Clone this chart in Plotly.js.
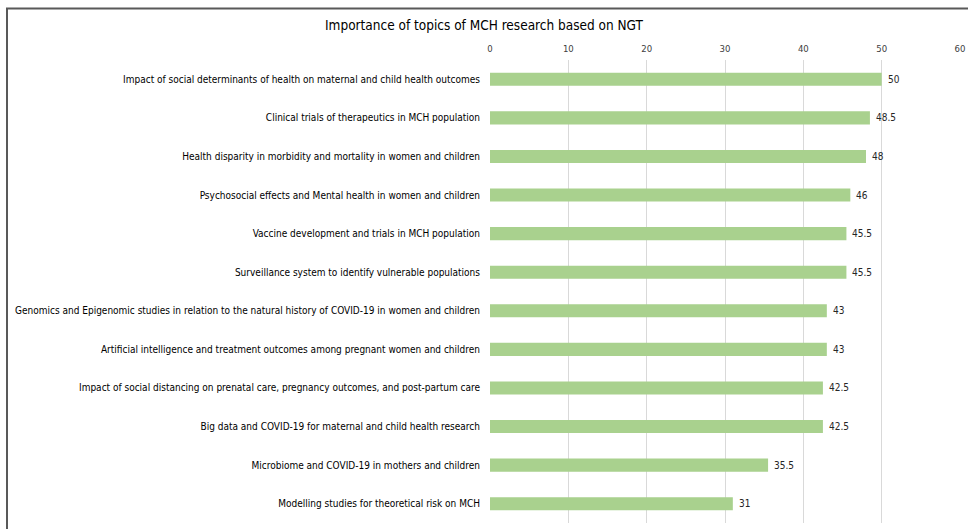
<!DOCTYPE html>
<html>
<head>
<meta charset="utf-8">
<script src="https://cdn.plot.ly/plotly-3.0.1.min.js"></script>
<style>html,body{margin:0;padding:0;background:#fff;}#chart{width:968px;height:529px;}</style>
</head>
<body>
<div id="chart"></div>
<script>
const topics = [
  "Impact of social determinants of health on maternal and child health outcomes",
  "Clinical trials of therapeutics in MCH population",
  "Health disparity in morbidity and mortality in women and children",
  "Psychosocial effects and Mental health in women and children",
  "Vaccine development and trials in MCH population",
  "Surveillance system to identify vulnerable populations",
  "Genomics and Epigenomic studies in relation to the natural history of COVID-19 in women and children",
  "Artificial intelligence and treatment outcomes among pregnant women and children",
  "Impact of social distancing on prenatal care, pregnancy outcomes, and post-partum care",
  "Big data and COVID-19 for maternal and child health research",
  "Microbiome and COVID-19 in mothers and children",
  "Modelling studies for theoretical risk on MCH"
];
const scores = [50, 48.5, 48, 46, 45.5, 45.5, 43, 43, 42.5, 42.5, 35.5, 31];
const xTicks = [0, 10, 20, 30, 40, 50, 60];
const chartTitle = "Importance of topics of MCH research based on NGT";

const font = "'DejaVu Sans Condensed', 'Liberation Sans', sans-serif";

const trace = {
  type: 'bar',
  orientation: 'h',
  y: topics,
  x: scores,
  marker: {color: '#a9d18e'},
  hoverinfo: 'x+y'
};

const annotations = scores.map((v, i) => ({
  x: v, y: topics[i], xref: 'x', yref: 'y',
  text: String(v), showarrow: false, xanchor: 'left', yanchor: 'middle',
  xshift: 4, font: {family: font, size: 10, color: '#262626'}
}));

const layout = {
  width: 968, height: 529,
  margin: {l: 490, r: 8, t: 60, b: 6},
  paper_bgcolor: '#fff', plot_bgcolor: '#fff',
  bargap: 0.66,
  showlegend: false,
  title: {text: chartTitle, font: {family: font, size: 13.5, color: '#000'}, x: 0.5, xref: 'container', xanchor: 'center', y: 0.953, yanchor: 'middle'},
  xaxis: {
    side: 'top', range: [0, 60], tickvals: xTicks, ticktext: xTicks.map(String),
    showgrid: true, gridcolor: '#d9d9d9', gridwidth: 1, zeroline: false,
    showline: false, ticks: '', tickfont: {family: font, size: 9.5, color: '#404040'},
    ticklabelstandoff: 5,
    fixedrange: true
  },
  yaxis: {
    autorange: 'reversed', showgrid: false, showline: false, ticks: '',
    tickfont: {family: font, size: 10, color: '#000'}, ticklabelstandoff: 9,
    fixedrange: true
  },
  annotations: annotations,
  shapes: [{
    type: 'rect', xref: 'paper', yref: 'paper',
    x0: (7 - 490) / 470, x1: 1.1, y0: -0.1, y1: 1 + (60 - 8.5) / 463,
    line: {color: '#595959', width: 2}, fillcolor: 'rgba(0,0,0,0)', layer: 'below'
  }]
};

Plotly.newPlot('chart', [trace], layout, {displayModeBar: false, staticPlot: true});
</script>
</body>
</html>
